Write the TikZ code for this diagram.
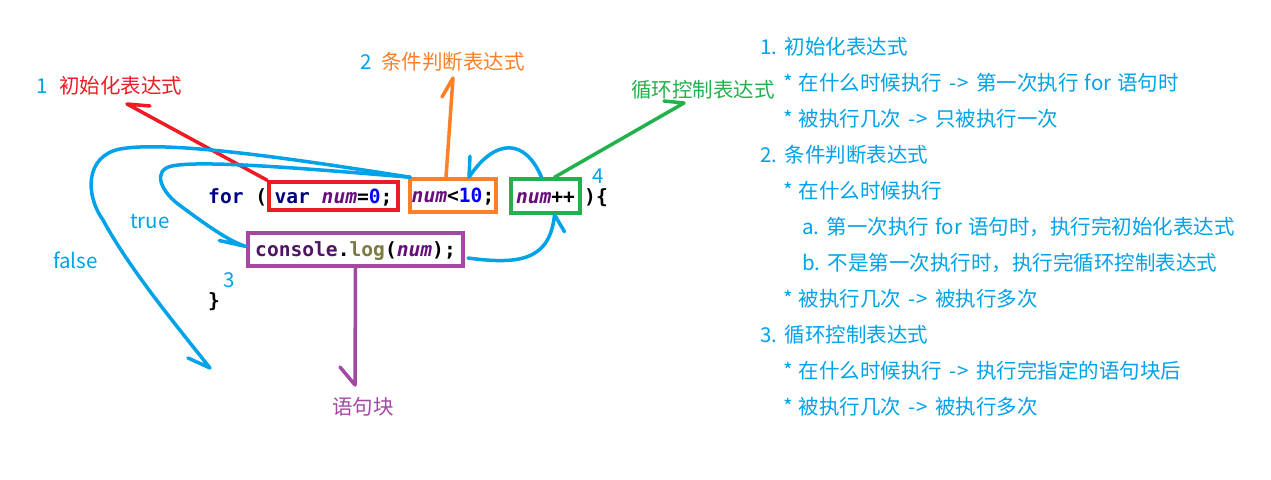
\documentclass[tikz,border=0pt]{standalone}
\usepackage{fontspec}
\newfontfamily\cjk[WordSpace=1.3]{Noto Sans CJK SC}
\newfontfamily\codefam{DejaVu Sans Mono}
\newcommand\annfont{\cjk\fontsize{20.5}{24}\selectfont}
\newcommand\codefont{\codefam\bfseries\fontsize{19.6}{22}\selectfont}
\newcommand\arr{\kern1pt-\kern1.5pt>\kern1pt}
\definecolor{pblue}{RGB}{0,162,232}
\definecolor{pred}{RGB}{237,28,36}
\definecolor{porange}{RGB}{255,127,39}
\definecolor{pgreen}{RGB}{34,177,76}
\definecolor{ppurple}{RGB}{163,73,164}
\definecolor{kwc}{RGB}{0,0,128}
\definecolor{idc}{RGB}{102,14,122}
\definecolor{numc}{RGB}{0,0,255}
\definecolor{fnc}{RGB}{122,122,67}
\definecolor{objc}{RGB}{80,20,100}
\newcommand\cnum{{\color{idc}\itshape num}}
\tikzset{
  ann/.style={font=\annfont, inner sep=0pt, anchor=base west},
  codetxt/.style={font=\codefont, inner sep=0pt, anchor=base west},
  codebox/.style={draw=#1, line width=3.5pt, inner sep=0pt, text height=15pt, text depth=1pt, font=\codefont},
  stroke/.style={draw=#1, line width=3.5pt, line cap=round, line join=round}
}
\begin{document}
\begin{tikzpicture}[x=1pt,y=-1pt]
\useasboundingbox[fill=white] (0,0) rectangle (1271,479);

% code
\node[codetxt] (for) at (208,203) {{\color{kwc}for} (};
\node[codebox=pred, minimum width=129pt, minimum height=28pt] (red) at (333.5,196) {{\color{kwc}var} \cnum=\textcolor{numc}{0};};
\node[codebox=porange, minimum width=86pt, minimum height=33pt] (orange) at (453,195.5) {\cnum<\textcolor{numc}{10};};
\node[codebox=pgreen, minimum width=69pt, minimum height=34pt] (green) at (545.5,196) {\cnum++};
\node[codetxt] (close) at (584,203) {)\{};
\node[codebox=ppurple, minimum width=215pt, minimum height=33pt] (purple) at (355.5,249.5) {{\color{objc}console}.{\color{fnc}log}(\cnum);};
\node[codetxt] (brace) at (208,307) {\}};

% left labels
\node[ann, text=pblue] (n1) at (36,93) {1};
\node[ann, text=pred] (lab1) at (59,93) {初始化表达式};
\node[ann, text=pblue] (n2) at (360,69) {2};
\node[ann, text=porange] (lab2) at (381,69) {条件判断表达式};
\node[ann, text=pgreen] (lab3) at (631,97) {循环控制表达式};
\node[ann, text=pblue] (ltrue) at (130,228) {true};
\node[ann, text=pblue] (lfalse) at (53,268) {false};
\node[ann, text=pblue] (n3) at (223,287) {3};
\node[ann, text=pblue] (n4) at (592,183) {4};
\node[ann, text=ppurple] (lab4) at (332,414) {语句块};

% right list
\begin{scope}[every node/.style={ann, text=pblue}]
\node (r1) at (760,54.5) {1. 初始化表达式};
\node (r2) at (783,90.5) {* 在什么时候执行 \arr{} 第一次执行 for 语句时};
\node (r3) at (783,126.5) {* 被执行几次 \arr{} 只被执行一次};
\node (r4) at (760,162.5) {2. 条件判断表达式};
\node (r5) at (783,198.5) {* 在什么时候执行};
\node (r6) at (802,234.5) {a. 第一次执行 for 语句时，执行完初始化表达式};
\node (r7) at (802,270.5) {b. 不是第一次执行时，执行完循环控制表达式};
\node (r8) at (783,306.5) {* 被执行几次 \arr{} 被执行多次};
\node (r9) at (760,342.5) {3. 循环控制表达式};
\node (r10) at (783,378.5) {* 在什么时候执行 \arr{} 执行完指定的语句块后};
\node (r11) at (783,414.5) {* 被执行几次 \arr{} 被执行多次};
\end{scope}

% arrow ends
\coordinate (redtip) at (127,104);
\coordinate (redbarb) at (150,106);
\coordinate (ortip) at (453,78);
\coordinate (orbarb) at (442,97);
\coordinate (grtip) at (684,103);
\coordinate (grbarb) at (664,101);
\coordinate (logout) at (468,258);
\coordinate (falsetip) at (210,368);
\coordinate (purtip) at (355,385);
\coordinate (purbarb) at (340,367);

% connectors
\draw[stroke=pred] (red.north west) -- (redtip) -- (redbarb);
\draw[stroke=porange] ([xshift=-7pt]orange.north) -- (ortip) -- (orbarb);
\draw[stroke=pgreen] ([xshift=9pt]green.north) -- (grtip) -- (grbarb);
\draw[stroke=ppurple] (purple.south) -- (purtip) -- (purbarb);

% increment -> condition
\draw[stroke=pblue] ([xshift=-4pt]green.north) .. controls (525,138) and (495,138) .. ([xshift=16pt]orange.north) -- ++(1,-21);
% body -> increment
\draw[stroke=pblue] (logout) .. controls (520,265) and (550,260) .. ([xshift=9pt]green.south) -- ++(10,17);
% true
\draw[stroke=pblue] ([xshift=2pt]orange.north west) .. controls (300,168) and (200,160) .. (172,166)
  .. controls (152,170) and (160,192) .. (182,207)
  .. controls (205,224) and (230,242) .. ([yshift=3pt]purple.west) -- ++(-27,-6);
% false
\draw[stroke=pblue] ([xshift=2pt]orange.north west) .. controls (300,160) and (170,140) .. (120,149)
  .. controls (85,156) and (85,195) .. (103,220)
  .. controls (130,270) and (180,330) .. (falsetip) -- ++(-22,-10);
\end{tikzpicture}
\end{document}
